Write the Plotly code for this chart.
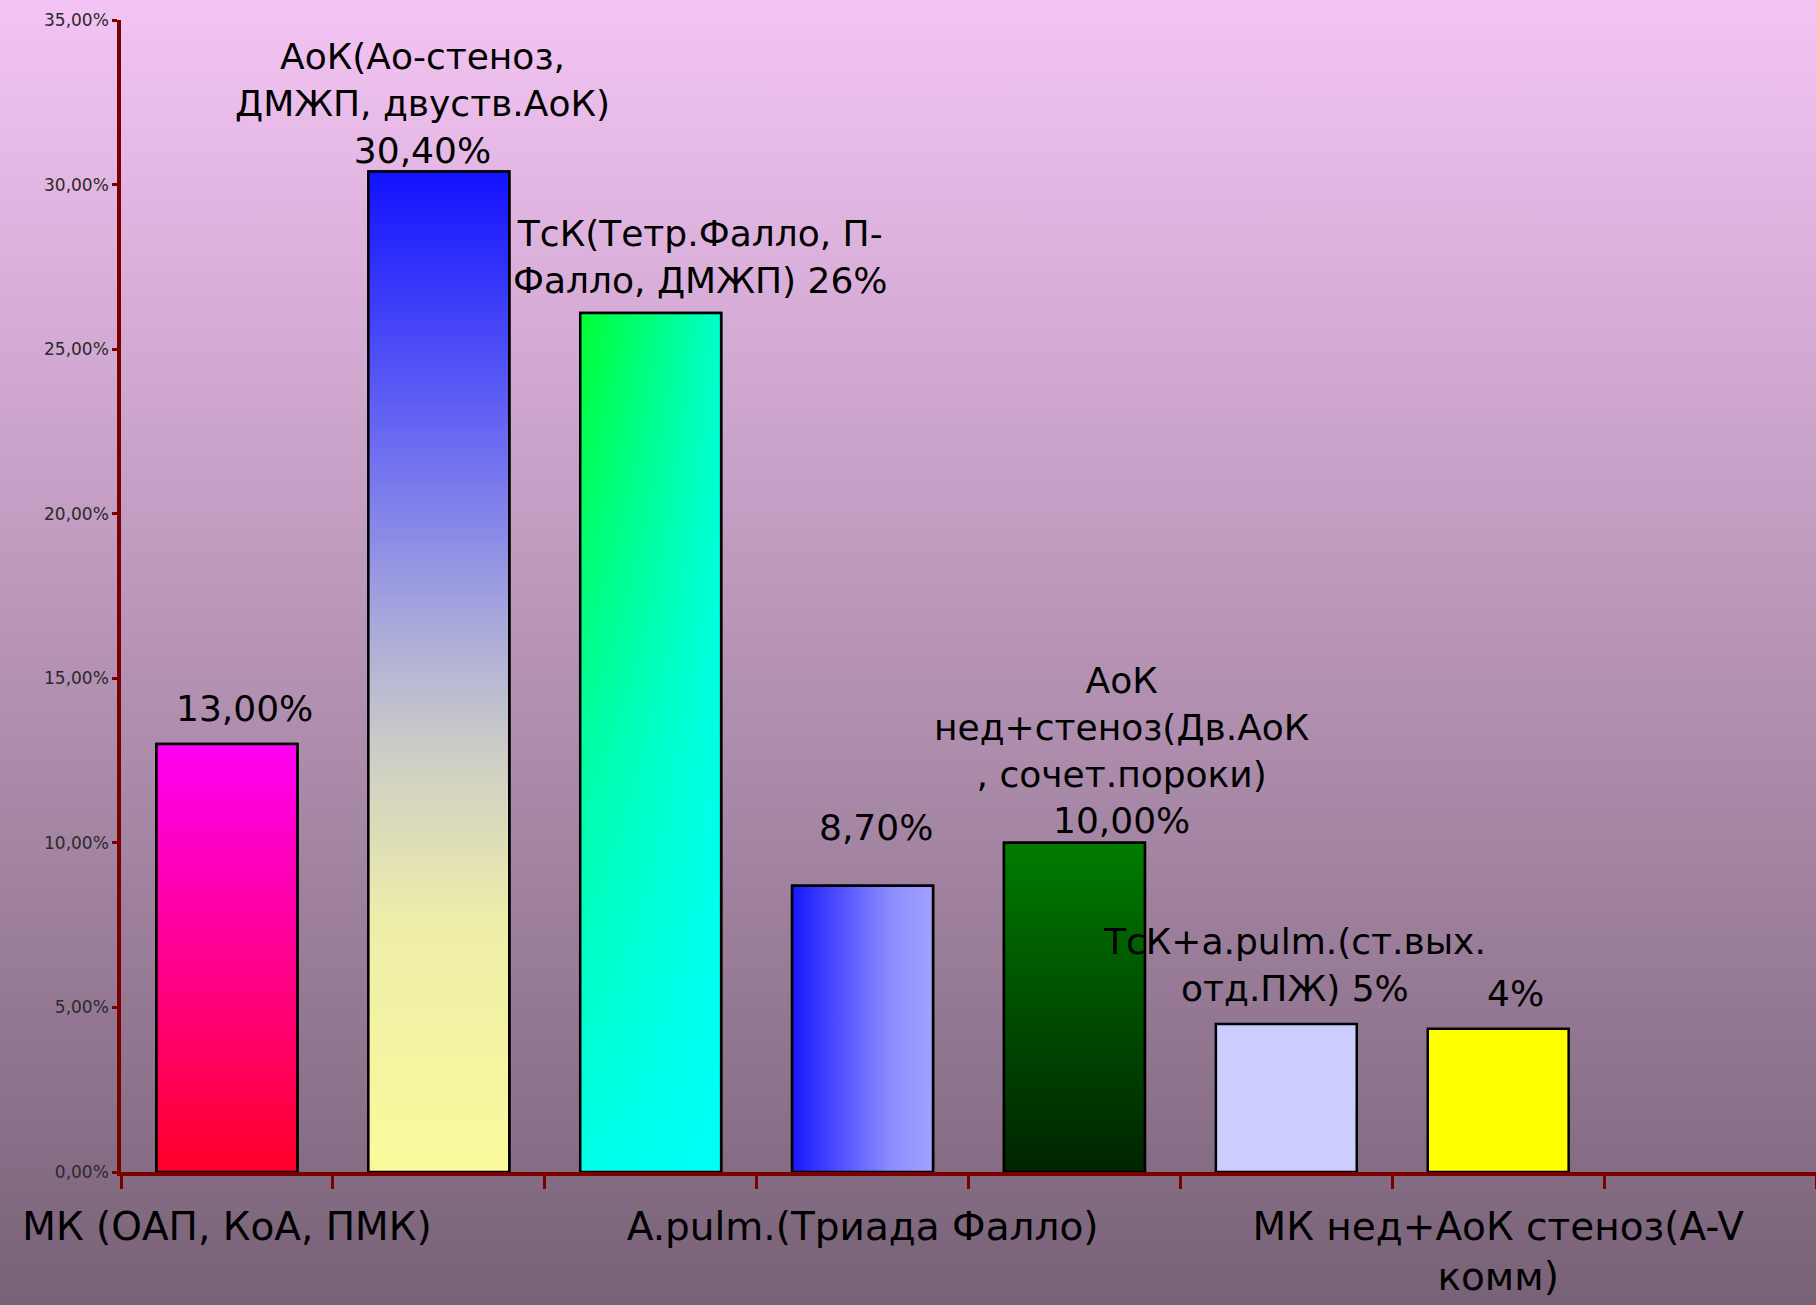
import base64
from decimal import Decimal, ROUND_HALF_UP

import plotly.graph_objects as go

# ---- data -------------------------------------------------------------
categories = [
    "МК (ОАП, КоА, ПМК)",
    "АоК(Ао-стеноз, ДМЖП, двуств.АоК)",
    "ТсК(Тетр.Фалло, П-Фалло, ДМЖП)",
    "A.pulm.(Триада Фалло)",
    "АоК нед+стеноз(Дв.АоК, сочет.пороки)",
    "ТсК+a.pulm.(ст.вых.отд.ПЖ)",
    "МК нед+АоК стеноз(A-V комм)",
]
values = [13.0, 30.4, 26.1, 8.7, 10.0, 4.5, 4.35]          # percent
label_decimals = [2, 2, 0, 2, 2, 0, 0]
label_names = [
    "",
    "АоК(Ао-стеноз,<br>ДМЖП, двуств.АоК)<br>",
    "ТсК(Тетр.Фалло, П-<br>Фалло, ДМЖП) ",
    "",
    "АоК<br>нед+стеноз(Дв.АоК<br>, сочет.пороки)<br>",
    "ТсК+a.pulm.(ст.вых.<br>отд.ПЖ) ",
    "",
]
shown_tick_idx = [0, 3, 6]
shown_tick_text = [
    "МК (ОАП, КоА, ПМК)",
    "A.pulm.(Триада Фалло)",
    "МК нед+АоК стеноз(A-V<br>комм)",
]
y_ticks = [0, 5, 10, 15, 20, 25, 30, 35]

# ---- styling ----------------------------------------------------------
W, H = 1816, 1305
FONT = "DejaVu Sans"
AXIS_RED = "#7A0000"
BAR_W = 0.665
N_SLOTS = 8

base_colors = ["#FF0080", "#8C8CE0", "#00FFB0", "#6060FF", "#005000", "#CCCCFF", "#FFFF00"]
# vertical gradients: colour stops from bottom (0) to top (1)
vgrad = {
    0: [[0, "#FF0028"], [0.5, "#FF0090"], [1, "#FF00F4"]],
    1: [[0, "#FAFA9C"], [0.25, "#EEEEAA"], [0.42, "#CDCDC6"], [0.55, "#A8A8DC"],
        [0.75, "#6464F4"], [1, "#1212FF"]],
    2: [[0, "#00FFE8"], [0.5, "#00FFA0"], [1, "#00FF30"]],
    4: [[0, "#002400"], [0.5, "#004E00"], [1, "#007C00"]],
}
# horizontal gradients: colour stops from left (0) to right (1)
hgrad = {
    2: [[0, "rgba(0,255,255,0)"], [1, "rgba(0,255,255,0.75)"]],
    3: [[0, "#1818FF"], [0.35, "#5252FF"], [0.7, "#8C8CFF"], [1, "#A2A2FF"]],
}
label_xshift = [18, -16, 50, 13, 47, 8, 17]
label_gap = [13, -2, 10, 36, 0, 13, 13]


def fmt_num(v, d):
    q = Decimal(str(v)).quantize(Decimal(1).scaleb(-d), rounding=ROUND_HALF_UP)
    return f"{q}".replace(".", ",") + "%"


fig = go.Figure()

# plain bars (base layer, carries the values)
fig.add_trace(go.Bar(
    x=list(range(len(values))), y=values, width=BAR_W,
    marker=dict(color=base_colors, line=dict(color="black", width=2.5)),
    hovertext=categories, hoverinfo="text+y", showlegend=False,
))


def bar_outline(i, v):
    x0, x1 = i - BAR_W / 2, i + BAR_W / 2
    return [x0, x1, x1, x0, x0], [0, 0, v, v, 0]


# gradient fills drawn over the bars from the same values
for i, v in enumerate(values):
    xs, ys = bar_outline(i, v)
    layers = []
    if i in vgrad:
        layers.append(dict(type="vertical", colorscale=vgrad[i], start=0, stop=v))
    if i in hgrad:
        layers.append(dict(type="horizontal", colorscale=hgrad[i],
                           start=i - BAR_W / 2, stop=i + BAR_W / 2))
    for k, g in enumerate(layers):
        last = k == len(layers) - 1
        fig.add_trace(go.Scatter(
            x=xs, y=ys, mode="lines", fill="toself", fillgradient=g,
            line=dict(color="black", width=2.5 if last else 0),
            hoverinfo="skip", showlegend=False,
        ))

# value labels
for i, v in enumerate(values):
    fig.add_annotation(
        x=i, y=v, xref="x", yref="y",
        text=label_names[i] + fmt_num(v, label_decimals[i]),
        showarrow=False, xanchor="center", yanchor="bottom",
        xshift=label_xshift[i], yshift=label_gap[i],
        font=dict(family=FONT, size=36, color="black"), align="center",
    )

# background gradient
svg = ('<svg xmlns="http://www.w3.org/2000/svg" width="100" height="100" '
       'preserveAspectRatio="none"><defs><linearGradient id="g" x1="0" y1="0" '
       'x2="0" y2="1"><stop offset="0" stop-color="#F4C4F4"/>'
       '<stop offset="1" stop-color="#786277"/></linearGradient></defs>'
       '<rect width="100" height="100" fill="url(#g)"/></svg>')
bg_src = "data:image/svg+xml;base64," + base64.b64encode(svg.encode()).decode()
fig.add_layout_image(dict(
    source=bg_src, xref="paper", yref="paper", x=0, y=1, sizex=1, sizey=1,
    sizing="stretch", layer="below", xanchor="left", yanchor="top",
))

x_left, y_top, y_bottom = 121, 20, 1172
fig.update_layout(
    width=W, height=H,
    margin=dict(l=0, r=0, t=0, b=0, autoexpand=False),
    paper_bgcolor="#B696B5", plot_bgcolor="rgba(0,0,0,0)",
    showlegend=False,
    xaxis=dict(
        domain=[x_left / W, 1],
        range=[-0.5, N_SLOTS - 0.5],
        tickmode="array", tickvals=shown_tick_idx, ticktext=shown_tick_text,
        ticks="", ticklabelstandoff=17,
        tickfont=dict(family=FONT, size=39, color="black"),
        showgrid=False, zeroline=False, automargin=False,
        showline=True, linecolor=AXIS_RED, linewidth=3.5,
        minor=dict(tickmode="array",
                   tickvals=[k - 0.5 for k in range(N_SLOTS + 1)],
                   ticks="outside", ticklen=13, tickwidth=3, tickcolor=AXIS_RED),
        fixedrange=True,
    ),
    yaxis=dict(
        domain=[1 - y_bottom / H, 1 - y_top / H],
        range=[0, 35],
        tickmode="array", tickvals=y_ticks,
        ticktext=[fmt_num(t, 2) for t in y_ticks],
        ticks="outside", ticklen=5, tickwidth=3, tickcolor=AXIS_RED,
        tickfont=dict(family=FONT, size=17, color="#2A2A2A"),
        showgrid=False, zeroline=False, automargin=False,
        showline=True, linecolor=AXIS_RED, linewidth=3.5,
        fixedrange=True,
    ),
)

fig.write_html("out.html")
